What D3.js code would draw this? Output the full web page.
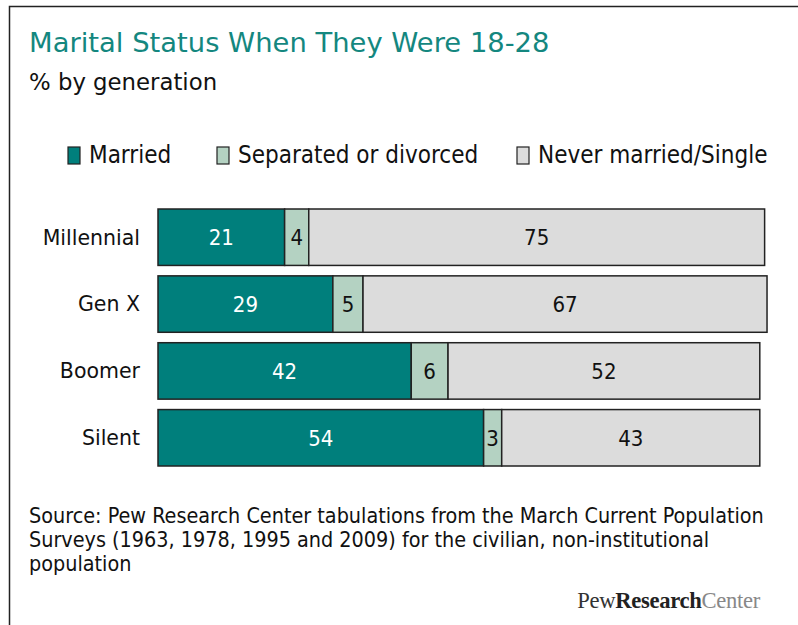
<!DOCTYPE html>
<html>
<head>
<meta charset="utf-8">
<script src="https://cdn.jsdelivr.net/npm/d3@7.9.0/dist/d3.min.js"></script>
<style>
  body { margin: 0; background: #fff; }
  svg { display: block; }
  .cond { font-family: 'DejaVu Sans Condensed', 'Liberation Sans Narrow', 'DejaVu Sans', sans-serif; font-stretch: condensed; }
</style>
</head>
<body>
<svg id="chart" width="798" height="625"></svg>
<script>
const generations = ['Millennial', 'Gen X', 'Boomer', 'Silent'];
const seriesNames = ['Married', 'Separated or divorced', 'Never married/Single'];
const seriesColors = ['#007f7c', '#b4d2c2', '#dcdcdc'];

// plotted shares and the rounded labels printed on them
const married = [21, 29, 42, 54];
const separated = [4, 5, 6.1, 3];
const neverMarried = [75.6, 67, 51.7, 42.8];
const marriedLabels = ['21', '29', '42', '54'];
const separatedLabels = ['4', '5', '6', '3'];
const neverLabels = ['75', '67', '52', '43'];

const sourceLines = [
  'Source: Pew Research Center tabulations from the March Current Population',
  'Surveys (1963, 1978, 1995 and 2009) for the civilian, non-institutional',
  'population',
];

const svg = d3.select('#chart');

// frame
svg.append('path')
  .attr('d', 'M9.5,625V6.5H798')
  .attr('fill', 'none')
  .attr('stroke', '#222')
  .attr('stroke-width', 1.5);

svg.append('text')
  .attr('x', 29).attr('y', 52)
  .attr('font-family', 'DejaVu Sans, sans-serif')
  .attr('font-size', 27.4)
  .attr('fill', '#14877f')
  .text('Marital Status When They Were 18-28');

svg.append('text')
  .attr('x', 29).attr('y', 90)
  .attr('font-family', 'DejaVu Sans, sans-serif')
  .attr('font-size', 22.8)
  .attr('fill', '#111')
  .text('% by generation');

// legend
const legendX = [68, 217, 517];
const legend = svg.append('g')
  .selectAll('g')
  .data(seriesNames)
  .join('g')
  .attr('transform', (d, i) => `translate(${legendX[i]},147)`);

legend.append('rect')
  .attr('width', 12).attr('height', 17)
  .attr('fill', (d, i) => seriesColors[i])
  .attr('stroke', '#222')
  .attr('stroke-width', 1.2);

legend.append('text')
  .attr('class', 'cond')
  .attr('x', 21).attr('y', 16)
  .attr('font-size', 24)
  .attr('fill', '#111')
  .text((d) => d);

// bars
const x = d3.scaleLinear().domain([0, 100]).range([158, 761]);
const y = d3.scaleBand().domain(generations).range([209, 466]).paddingInner(0.156).paddingOuter(0);

const rows = generations.map((g, i) => {
  const vals = [married[i], separated[i], neverMarried[i]];
  const labels = [marriedLabels[i], separatedLabels[i], neverLabels[i]];
  let acc = 0;
  return vals.map((v, k) => {
    const seg = { gen: g, k, x0: acc, x1: acc + v, label: labels[k] };
    acc += v;
    return seg;
  });
}).flat();

svg.append('g')
  .selectAll('rect')
  .data(rows)
  .join('rect')
  .attr('x', (d) => x(d.x0))
  .attr('y', (d) => y(d.gen))
  .attr('width', (d) => x(d.x1) - x(d.x0))
  .attr('height', y.bandwidth())
  .attr('fill', (d) => seriesColors[d.k])
  .attr('stroke', '#222')
  .attr('stroke-width', 1.5);

svg.append('g')
  .selectAll('text')
  .data(rows)
  .join('text')
  .attr('class', 'cond')
  .attr('x', (d) => (x(d.x0) + x(d.x1)) / 2)
  .attr('y', (d) => y(d.gen) + y.bandwidth() / 2)
  .attr('dy', '0.36em')
  .attr('text-anchor', 'middle')
  .attr('font-size', 22)
  .attr('fill', (d) => (d.k === 0 ? '#fff' : '#111'))
  .text((d) => d.label);

// category axis labels
svg.append('g')
  .selectAll('text')
  .data(generations)
  .join('text')
  .attr('x', 140)
  .attr('y', (d) => y(d) + y.bandwidth() / 2)
  .attr('dy', '0.36em')
  .attr('text-anchor', 'end')
  .attr('font-family', 'DejaVu Sans, sans-serif')
  .attr('font-size', 20.5)
  .attr('fill', '#111')
  .text((d) => d);

// source note
svg.append('g')
  .selectAll('text')
  .data(sourceLines)
  .join('text')
  .attr('class', 'cond')
  .attr('x', 29)
  .attr('y', (d, i) => 523 + i * 24)
  .attr('font-size', 21.4)
  .attr('fill', '#111')
  .text((d) => d);

// logo
const logo = svg.append('text')
  .attr('x', 760).attr('y', 608)
  .attr('text-anchor', 'end')
  .attr('font-family', 'Liberation Serif, serif')
  .attr('font-size', 22.6)
  .attr('letter-spacing', -0.3);
logo.append('tspan').attr('fill', '#333').text('Pew');
logo.append('tspan').attr('fill', '#222').attr('font-weight', 'bold').text('Research');
logo.append('tspan').attr('fill', '#888').text('Center');
</script>
</body>
</html>
